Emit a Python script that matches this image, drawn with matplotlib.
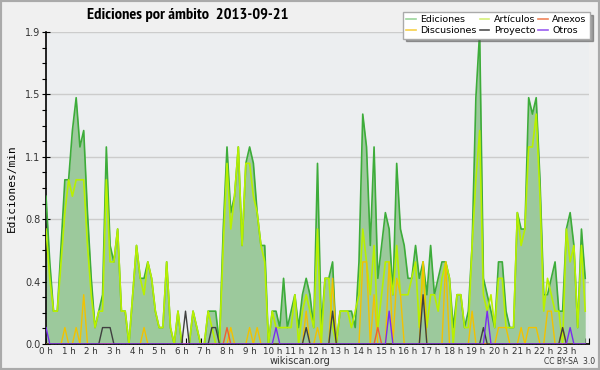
import numpy as np
import matplotlib
matplotlib.use("Agg")
import matplotlib.pyplot as plt
from matplotlib.patches import Rectangle
from matplotlib.lines import Line2D
from matplotlib import font_manager

# edits per minute, one value per 10 minutes (00:00 .. 23:50)
ediciones = [
    0.9, 0.5, 0.2, 0.2, 0.6, 1.0, 1.0, 1.3, 1.5, 1.2, 1.3, 0.8,
    0.4, 0.1, 0.2, 0.3, 1.2, 0.6, 0.5, 0.7, 0.2, 0.2, 0.0, 0.3,
    0.6, 0.4, 0.4, 0.5, 0.4, 0.2, 0.1, 0.1, 0.5, 0.1, 0.0, 0.2,
    0.0, 0.0, 0.0, 0.2, 0.1, 0.0, 0.0, 0.2, 0.2, 0.2, 0.0, 0.7,
    1.2, 0.8, 0.9, 1.2, 0.6, 1.1, 1.2, 1.1, 0.8, 0.6, 0.6, 0.0,
    0.2, 0.2, 0.1, 0.4, 0.1, 0.2, 0.3, 0.1, 0.3, 0.4, 0.3, 0.1,
    1.1, 0.1, 0.4, 0.4, 0.5, 0.0, 0.2, 0.2, 0.2, 0.2, 0.1, 0.5,
    1.4, 1.2, 0.6, 1.2, 0.4, 0.6, 0.8, 0.7, 0.3, 1.1, 0.7, 0.6,
    0.4, 0.4, 0.6, 0.4, 0.5, 0.3, 0.6, 0.3, 0.4, 0.5, 0.5, 0.4,
    0.1, 0.3, 0.3, 0.1, 0.2, 0.6, 1.5, 1.9, 0.4, 0.3, 0.2, 0.1,
    0.5, 0.5, 0.2, 0.1, 0.1, 0.8, 0.7, 0.7, 1.5, 1.4, 1.5, 1.0,
    0.3, 0.3, 0.4, 0.5, 0.2, 0.2, 0.7, 0.8, 0.6, 0.1, 0.7, 0.4,
]
articulos = [
    0.7, 0.4, 0.2, 0.2, 0.5, 0.8, 1.0, 0.9, 1.0, 1.0, 1.0, 0.6,
    0.3, 0.1, 0.2, 0.2, 1.0, 0.5, 0.5, 0.7, 0.2, 0.2, 0.0, 0.3,
    0.6, 0.4, 0.3, 0.5, 0.4, 0.2, 0.1, 0.1, 0.5, 0.1, 0.0, 0.2,
    0.0, 0.0, 0.0, 0.2, 0.1, 0.0, 0.0, 0.2, 0.1, 0.0, 0.0, 0.6,
    1.1, 0.7, 0.9, 1.2, 0.6, 1.1, 1.1, 0.9, 0.8, 0.6, 0.5, 0.0,
    0.2, 0.1, 0.1, 0.1, 0.1, 0.1, 0.3, 0.0, 0.2, 0.3, 0.2, 0.1,
    0.7, 0.0, 0.4, 0.4, 0.1, 0.0, 0.2, 0.2, 0.2, 0.1, 0.2, 0.3,
    0.7, 0.5, 0.3, 0.6, 0.1, 0.3, 0.5, 0.5, 0.3, 0.6, 0.3, 0.3,
    0.3, 0.4, 0.5, 0.1, 0.5, 0.1, 0.3, 0.3, 0.2, 0.4, 0.5, 0.4,
    0.0, 0.3, 0.3, 0.1, 0.1, 0.6, 1.0, 1.3, 0.3, 0.2, 0.3, 0.1,
    0.4, 0.4, 0.1, 0.1, 0.1, 0.8, 0.6, 0.7, 1.2, 1.2, 1.4, 0.9,
    0.2, 0.4, 0.3, 0.2, 0.2, 0.0, 0.7, 0.5, 0.6, 0.1, 0.6, 0.2,
]
discusiones = [
    0.0, 0.0, 0.0, 0.0, 0.0, 0.1, 0.0, 0.0, 0.1, 0.0, 0.3, 0.0,
    0.0, 0.0, 0.0, 0.0, 0.0, 0.0, 0.0, 0.0, 0.0, 0.0, 0.0, 0.0,
    0.0, 0.0, 0.1, 0.0, 0.0, 0.0, 0.0, 0.0, 0.0, 0.0, 0.0, 0.0,
    0.0, 0.0, 0.0, 0.0, 0.0, 0.0, 0.0, 0.0, 0.0, 0.0, 0.0, 0.0,
    0.0, 0.1, 0.0, 0.0, 0.0, 0.0, 0.1, 0.0, 0.1, 0.0, 0.0, 0.0,
    0.0, 0.0, 0.0, 0.0, 0.0, 0.0, 0.0, 0.0, 0.0, 0.2, 0.0, 0.0,
    0.1, 0.0, 0.0, 0.0, 0.4, 0.0, 0.0, 0.0, 0.0, 0.0, 0.0, 0.0,
    0.5, 0.5, 0.0, 0.3, 0.0, 0.0, 0.0, 0.5, 0.0, 0.4, 0.3, 0.0,
    0.0, 0.0, 0.0, 0.0, 0.5, 0.0, 0.0, 0.0, 0.0, 0.0, 0.5, 0.0,
    0.0, 0.0, 0.0, 0.0, 0.0, 0.2, 0.0, 0.0, 0.0, 0.0, 0.0, 0.0,
    0.1, 0.1, 0.1, 0.0, 0.0, 0.0, 0.1, 0.0, 0.1, 0.1, 0.1, 0.0,
    0.0, 0.2, 0.2, 0.0, 0.0, 0.1, 0.0, 0.0, 0.0, 0.0, 0.0, 0.0,
]
anexos = [0.0] * 144
anexos[48] = 0.1
anexos[88] = 0.1
proyecto = [
    0.0, 0.0, 0.0, 0.0, 0.0, 0.0, 0.0, 0.0, 0.0, 0.0, 0.0, 0.0,
    0.0, 0.0, 0.0, 0.1, 0.1, 0.1, 0.0, 0.0, 0.0, 0.0, 0.0, 0.0,
    0.0, 0.0, 0.0, 0.0, 0.0, 0.0, 0.0, 0.0, 0.0, 0.0, 0.0, 0.0,
    0.0, 0.2, 0.0, 0.0, 0.0, 0.0, 0.0, 0.0, 0.1, 0.1, 0.0, 0.0,
    0.0, 0.0, 0.0, 0.0, 0.0, 0.0, 0.0, 0.0, 0.0, 0.0, 0.0, 0.0,
    0.0, 0.0, 0.0, 0.0, 0.0, 0.0, 0.0, 0.0, 0.0, 0.1, 0.0, 0.0,
    0.0, 0.0, 0.0, 0.0, 0.2, 0.0, 0.0, 0.0, 0.0, 0.0, 0.0, 0.0,
    0.0, 0.0, 0.0, 0.0, 0.0, 0.0, 0.0, 0.0, 0.0, 0.0, 0.0, 0.0,
    0.0, 0.0, 0.0, 0.0, 0.3, 0.0, 0.0, 0.0, 0.0, 0.0, 0.0, 0.0,
    0.0, 0.0, 0.0, 0.0, 0.0, 0.0, 0.0, 0.0, 0.1, 0.0, 0.0, 0.0,
    0.0, 0.0, 0.0, 0.0, 0.0, 0.0, 0.0, 0.0, 0.0, 0.0, 0.0, 0.0,
    0.0, 0.0, 0.0, 0.0, 0.0, 0.1, 0.0, 0.0, 0.0, 0.0, 0.0, 0.0,
]
otros = [0.0] * 144
otros[0] = 0.1
otros[61] = 0.1
otros[91] = 0.2
otros[117] = 0.2
otros[139] = 0.1

hour_labels = [f"{h} h" for h in range(24)]
y_max = 1.9

bg = "#f0f0f0"
plot_bg = "#eceef0"

# a narrower bold face for the title, if one is installed
title_font = {"family": "DejaVu Sans", "weight": "bold", "size": 7.8}
for f in font_manager.fontManager.ttflist:
    if "Narrow" in f.name and f.weight in ("bold", 700) and f.style == "normal":
        title_font = {"fname": f.fname, "size": 11.8}
        break

fig = plt.figure(figsize=(6, 3.7), dpi=100, facecolor=bg)
ax = fig.add_axes([46 / 600, 26 / 370, 543 / 600, 312 / 370])
ax.set_facecolor(plot_bg)

x = np.arange(len(ediciones)) / 6.0

ax.fill_between(x, ediciones, 0, color="#9cc99c", lw=0, zorder=2)
ax.plot(x, ediciones, color="#3dac3a", lw=1.2, zorder=3)
ax.plot(x, articulos, color="#b8f000", lw=1.2, zorder=4)
ax.plot(x, discusiones, color="#f2c200", lw=1.0, zorder=5)
ax.plot(x, anexos, color="#f06030", lw=1.0, zorder=6)
ax.plot(x, proyecto, color="#404040", lw=1.0, zorder=7)
ax.plot(x, otros, color="#7a2cf0", lw=1.0, zorder=8)

ax.set_xlim(0, 24)
ax.set_ylim(0, y_max)

yt = np.linspace(0, y_max, 6)
ax.set_yticks(yt)
ax.set_yticklabels([f"{v:.1f}" for v in yt], fontsize=7, color="#333333")
ax.set_yticks(np.linspace(0, y_max, 21), minor=True)
ax.tick_params(axis="y", which="major", direction="inout", length=6, width=0.8, pad=1)
ax.tick_params(axis="y", which="minor", direction="out", length=3, width=0.8)
ax.grid(axis="y", which="major", color="#cccccc", lw=1, zorder=1)

ax.set_xticks(np.arange(24) + 0.0)
ax.set_xticklabels(hour_labels, fontsize=6.3, color="#333333")
ax.set_xticks(np.arange(0, 24.01, 1 / 6), minor=True)
ax.tick_params(axis="x", which="major", direction="in", length=4, width=0.8, pad=2)
ax.tick_params(axis="x", which="minor", direction="in", length=4, width=0.8)

for s in ["top", "right"]:
    ax.spines[s].set_visible(False)
ax.spines["left"].set_linewidth(1.2)
ax.spines["bottom"].set_linewidth(1.2)

ax.set_ylabel("Ediciones/min", fontsize=8, family="DejaVu Sans Mono", labelpad=6)

fig.text(188 / 600, 1 - 15 / 370, "Ediciones por ámbito  2013-09-21",
         ha="center", va="center",
         fontproperties=font_manager.FontProperties(**title_font))
fig.text(300 / 600, 1 - 361 / 370, "wikiscan.org", ha="center", va="center",
         fontsize=7, color="#333333")
fig.text(570 / 600, 1 - 362 / 370, "CC BY-SA  3.0", ha="center", va="center",
         fontsize=5.5, color="#333333")

handles = [
    Line2D([], [], color="#9cd69c", lw=1.2),
    Line2D([], [], color="#f7d14a", lw=1.2),
    Line2D([], [], color="#d6f07a", lw=1.2),
    Line2D([], [], color="#505050", lw=1.2),
    Line2D([], [], color="#f0845a", lw=1.2),
    Line2D([], [], color="#9a5cf0", lw=1.2),
]
labels = ["Ediciones", "Discusiones", "Artículos", "Proyecto", "Anexos", "Otros"]
leg = fig.legend(handles, labels, ncol=3, loc="upper right",
                 bbox_to_anchor=(590 / 600, 1 - 12 / 370), fontsize=6.8,
                 frameon=True, fancybox=False, shadow=True, handlelength=1.0,
                 handletextpad=0.5, columnspacing=0.3, labelspacing=0.2,
                 borderpad=0.35, borderaxespad=0)
leg.get_frame().set_edgecolor("#aaaaaa")
leg.get_frame().set_linewidth(1)

fig.patches.append(Rectangle((0, 0), 1, 1, transform=fig.transFigure,
                             fill=False, edgecolor="#aaaaaa", lw=3))

fig.savefig("out.png", dpi=100, facecolor=bg)
